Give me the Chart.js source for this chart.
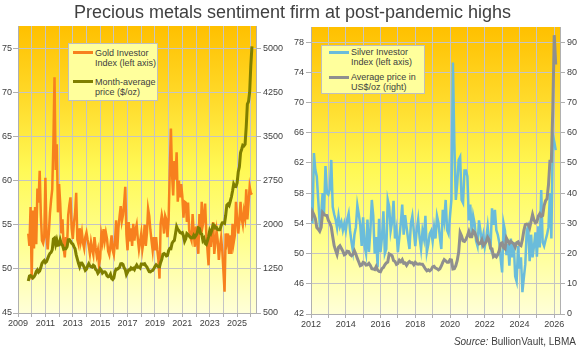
<!DOCTYPE html>
<html>
<head>
<meta charset="utf-8">
<script src="https://cdn.jsdelivr.net/npm/chart.js@4.4.1/dist/chart.umd.min.js"></script>
<style>
html,body{margin:0;padding:0;background:#ffffff;}
#wrap{position:relative;width:585px;height:350px;overflow:hidden;font-family:"Liberation Sans",Arial,sans-serif;color:#404040;}
canvas{position:absolute;left:0;top:0;}
#title{position:absolute;left:0;top:1px;width:585px;text-align:center;font-size:18px;line-height:22px;color:#404040;white-space:nowrap;}
.legend{position:absolute;background:#FFFF9C;border:1px solid #BFBFBF;box-sizing:border-box;}
.legend .row{position:absolute;font-size:9px;line-height:10px;white-space:nowrap;color:#404040;}
.legend .sw{position:absolute;height:3px;width:20px;}
#source{position:absolute;right:9px;top:336px;font-size:10px;line-height:12px;white-space:nowrap;color:#404040;}
</style>
</head>
<body>
<div id="wrap">
  <canvas id="goldChart" width="585" height="350"></canvas>
  <canvas id="silverChart" width="585" height="350"></canvas>
  <div id="title">Precious metals sentiment firm at post-pandemic highs</div>
  <div class="legend" style="left:68px;top:43px;width:90px;height:58px;">
    <div class="sw" style="left:4px;top:7px;background:#F7801E;"></div>
    <div class="row" style="left:26px;top:4px;">Gold Investor</div>
    <div class="row" style="left:26px;top:14px;">Index (left axis)</div>
    <div class="sw" style="left:4px;top:36px;background:#7F7F00;"></div>
    <div class="row" style="left:26px;top:33px;">Month-average</div>
    <div class="row" style="left:26px;top:43px;">price ($/oz)</div>
  </div>
  <div class="legend" style="left:321px;top:45px;width:104px;height:49px;">
    <div class="sw" style="left:7px;top:5px;background:#6ABCDB;"></div>
    <div class="row" style="left:29px;top:1px;">Silver Investor</div>
    <div class="row" style="left:29px;top:11px;">Index (left axis)</div>
    <div class="sw" style="left:7px;top:30px;background:#8F8F8F;"></div>
    <div class="row" style="left:29px;top:26px;">Average price in</div>
    <div class="row" style="left:29px;top:36px;">US$/oz (right)</div>
  </div>
  <div id="source"><i>Source:</i> BullionVault, LBMA</div>
</div>
<script>
// ---------- DATA ----------
// Gold: monthly, October 2009 to February 2026
const goldStartYear = 2009, goldStartMonth = 10;
const goldInvestorIndex = [
  54.0, 52.6, 57.0,
  48.8, 56.6, 52.3, 57.0, 52.8, 59.1, 57.5, 61.1, 56.2, 53.2, 52.9, 53.6,
  60.3, 53.8, 52.2, 54.0, 56.3, 57.8, 59.0, 64.2, 71.7, 61.2, 64.1, 56.4,
  59.6, 57.4, 54.0, 55.6, 52.4, 51.3, 53.6, 52.6, 56.1, 57.2, 58.1, 54.6,
  53.4, 55.2, 56.3, 58.6, 53.3, 52.8, 54.6, 53.2, 54.1, 52.9, 52.3, 53.6,
  54.1, 53.3, 52.6, 51.7, 53.0, 52.2, 51.6, 53.6, 52.4, 51.5, 52.1, 50.4,
  51.2, 53.9, 53.1, 54.5, 53.2, 54.1, 53.4, 52.0, 51.6, 52.6, 53.8, 52.1,
  51.6, 53.1, 55.5, 52.2, 54.6, 55.9, 57.1, 55.4, 56.1, 57.4, 59.3, 53.9,
  52.1, 55.3, 53.1, 54.6, 52.6, 55.1, 53.2, 54.4, 55.0, 53.4, 52.2, 53.1,
  54.0, 52.2, 53.1, 55.0, 52.6, 54.1, 56.8, 56.0, 54.4, 53.2, 52.1, 53.6,
  52.1, 53.6, 52.2, 51.1, 48.9, 55.1, 56.1, 55.4, 54.0, 56.0, 55.6, 53.6,
  55.6, 61.2, 65.9, 60.7, 58.3, 62.2, 60.1, 63.2, 57.6, 60.0, 58.1, 59.6,
  58.2, 55.8, 57.6, 57.5, 55.3, 57.5, 54.4, 53.6, 53.2, 56.2, 54.0, 52.5,
  54.8, 53.3, 51.7, 56.2, 54.0, 57.6, 55.0, 55.7, 57.4, 54.0, 52.2, 50.4,
  54.3, 52.5, 54.0, 55.3, 51.7, 53.0, 54.3, 53.2, 51.0, 52.5, 53.5, 52.1,
  49.8, 47.4, 54.0, 53.1, 54.0, 51.7, 53.8, 51.7, 55.1, 53.0, 53.8, 57.6,
  55.7, 54.0, 55.4, 57.6, 55.7, 55.0, 56.5, 55.8, 59.0, 55.6, 57.4, 59.3,
  58.6, 58.4
];
const goldPrice = [
  1043, 1127, 1135,
  1118, 1095, 1113, 1148, 1205, 1232, 1193, 1215, 1271, 1343, 1370, 1391,
  1356, 1372, 1424, 1474, 1512, 1529, 1572, 1756, 1772, 1665, 1739, 1652,
  1656, 1743, 1674, 1650, 1585, 1596, 1594, 1626, 1744, 1747, 1722, 1685,
  1671, 1627, 1593, 1487, 1414, 1343, 1286, 1347, 1349, 1316, 1275, 1225,
  1244, 1300, 1336, 1299, 1287, 1279, 1311, 1296, 1239, 1222, 1176, 1201,
  1251, 1227, 1179, 1198, 1199, 1181, 1131, 1117, 1125, 1159, 1086, 1068,
  1097, 1200, 1246, 1243, 1260, 1276, 1337, 1341, 1326, 1266, 1236, 1152,
  1192, 1234, 1231, 1266, 1246, 1260, 1236, 1283, 1315, 1280, 1282, 1265,
  1331, 1331, 1325, 1335, 1303, 1282, 1238, 1202, 1199, 1215, 1221, 1250,
  1291, 1320, 1301, 1286, 1284, 1359, 1413, 1500, 1511, 1495, 1471, 1479,
  1560, 1597, 1592, 1683, 1716, 1732, 1846, 1968, 1922, 1900, 1866, 1858,
  1867, 1808, 1718, 1760, 1850, 1834, 1807, 1785, 1775, 1777, 1822, 1790,
  1817, 1856, 1948, 1937, 1849, 1837, 1733, 1765, 1681, 1665, 1726, 1798,
  1898, 1855, 1912, 2000, 1992, 1943, 1951, 1918, 1916, 1916, 1985, 2030,
  2034, 2023, 2159, 2331, 2351, 2326, 2398, 2470, 2571, 2690, 2651, 2648,
  2710, 2895, 2983, 3220, 3282, 3350, 3340, 3368, 3665, 4050, 4090, 4250,
  4700, 5030
];
const goldIndexTicks = [45, 50, 55, 60, 65, 70, 75];
const goldPriceTicks = [500, 1250, 2000, 2750, 3500, 4250, 5000];
const goldYearGrid = [2009, 2010, 2011, 2012, 2013, 2014, 2015, 2016, 2017, 2018, 2019, 2020, 2021, 2022, 2023, 2024, 2025, 2026];
const goldYearLabels = [2009, 2011, 2013, 2015, 2017, 2019, 2021, 2023, 2025];

// Silver: monthly, January 2012 to February 2026
const silverStartYear = 2012, silverStartMonth = 1;
const silverInvestorIndex = [
  57.1, 54.0, 63.3, 61.1, 60.2, 57.1, 54.0, 55.0, 58.0, 55.3, 61.6, 58.0,
  57.8, 58.5, 62.4, 56.2, 55.2, 54.5, 53.4, 55.0, 53.6, 54.2, 53.1, 54.0,
  53.0, 54.5, 55.3, 53.0, 51.5, 50.3, 52.5, 53.5, 56.4, 55.2, 53.8, 51.0,
  54.8, 51.0, 50.0, 54.5, 50.2, 53.0, 57.1, 55.0, 50.0, 52.2, 48.2, 54.6,
  50.2, 52.1, 55.6, 50.0, 50.6, 57.1, 56.2, 53.0, 54.2, 57.0, 52.0, 53.2,
  50.2, 52.1, 54.0, 56.5, 52.5, 55.1, 53.5, 52.0, 50.6, 54.0, 55.0, 53.0,
  51.0, 53.1, 54.5, 52.1, 50.6, 53.0, 52.0, 55.0, 50.2, 51.2, 52.6, 53.0,
  51.6, 53.5, 52.0, 55.0, 54.1, 52.1, 50.6, 55.8, 54.4, 57.1, 53.1, 52.6,
  55.0, 57.2, 75.3, 64.6, 57.1, 59.3, 62.4, 62.8, 57.1, 56.7, 61.0, 61.0,
  60.2, 54.4, 56.5, 52.6, 55.0, 54.0, 51.7, 51.0, 54.4, 53.0, 51.5, 52.5,
  50.9, 52.0, 53.6, 51.5, 50.8, 56.0, 53.8, 55.8, 53.1, 52.5, 51.5, 49.3,
  47.5, 54.0, 53.0, 49.8, 51.3, 48.4, 52.0, 49.5, 51.5, 47.0, 46.3, 51.0,
  48.0, 49.5, 44.9, 46.8, 48.6, 53.1, 53.6, 49.0, 52.5, 49.5, 51.0, 52.8,
  49.6, 53.6, 50.8, 58.4, 51.5, 51.0, 51.8, 52.5, 53.5, 58.0, 52.0, 65.7,
  64.8, 63.7
];
const silverPrice = [
  30.8, 33.9, 32.9, 31.6, 28.6, 28.1, 27.4, 28.7, 33.6, 33.0, 32.7, 32.6,
  31.0, 30.1, 28.8, 25.6, 22.6, 21.1, 19.7, 22.1, 22.6, 21.7, 20.8, 19.6,
  19.9, 20.8, 20.7, 19.7, 19.3, 19.8, 20.9, 19.8, 18.4, 17.2, 16.0, 16.2,
  17.1, 16.9, 16.2, 16.3, 16.8, 16.1, 15.0, 14.9, 14.7, 15.7, 14.5, 14.1,
  14.0, 15.0, 15.4, 16.3, 16.9, 17.2, 19.9, 19.6, 19.3, 17.7, 17.4, 16.4,
  16.7, 17.8, 17.3, 18.0, 16.8, 16.9, 16.1, 16.9, 17.4, 17.0, 17.0, 16.3,
  17.1, 16.6, 16.5, 16.6, 16.5, 16.5, 15.7, 14.9, 14.3, 14.6, 14.3, 14.7,
  15.6, 15.8, 15.2, 15.0, 14.6, 15.0, 15.9, 17.1, 18.0, 17.6, 17.1, 17.1,
  18.0, 17.9, 14.9, 15.0, 16.0, 17.7, 20.5, 26.9, 25.8, 24.2, 24.0, 24.7,
  25.9, 27.3, 25.6, 25.6, 27.5, 27.0, 25.7, 24.0, 23.2, 23.4, 24.5, 22.6,
  23.3, 23.9, 25.4, 24.6, 21.8, 21.6, 19.0, 19.4, 18.9, 19.7, 21.0, 23.3,
  23.6, 22.0, 21.6, 25.1, 24.2, 23.4, 24.0, 23.6, 23.2, 22.2, 23.6, 23.9,
  22.9, 22.6, 24.6, 27.6, 29.6, 29.8, 29.7, 28.5, 30.7, 32.9, 31.1, 30.2,
  30.5, 32.4, 33.2, 32.3, 32.6, 35.9, 37.5, 38.2, 42.7, 50.6, 50.6, 68.0,
  92.3, 82.6
];
const silverIndexTicks = [42, 46, 50, 54, 58, 62, 66, 70, 74, 78];
const silverPriceTicks = [0, 10, 20, 30, 40, 50, 60, 70, 80, 90];
const silverYearGrid = [2012, 2013, 2014, 2015, 2016, 2017, 2018, 2019, 2020, 2021, 2022, 2023, 2024, 2025, 2026];
const silverYearLabels = [2012, 2014, 2016, 2018, 2020, 2022, 2024, 2026];

// ---------- CHARTS ----------
if (goldInvestorIndex.length !== goldPrice.length) throw new Error('gold length mismatch ' + goldInvestorIndex.length + ' ' + goldPrice.length);
if (silverInvestorIndex.length !== silverPrice.length) throw new Error('silver length mismatch ' + silverInvestorIndex.length + ' ' + silverPrice.length);

function toPoints(values, startYear, startMonth) {
  return values.map((v, i) => ({ x: startYear + (startMonth - 1 + i) / 12, y: v }));
}

const FONT = { family: '"Liberation Sans", Arial, sans-serif', size: 9 };
const TEXT = '#404040';
const GRID = '#C4C4C4';
const BORDER = '#B0B0B0';

const plotBackground = {
  id: 'plotBackground',
  beforeDraw(chart) {
    const { ctx, chartArea: a } = chart;
    const g = ctx.createLinearGradient(0, a.top, 0, a.bottom);
    g.addColorStop(0, '#FFC000');
    g.addColorStop(0.25, '#FFDA2A');
    g.addColorStop(0.5, '#FFF955');
    g.addColorStop(0.75, '#FFFF8E');
    g.addColorStop(1, '#FFFFD8');
    ctx.save();
    ctx.fillStyle = g;
    ctx.fillRect(a.left, a.top, a.right - a.left, a.bottom - a.top);
    ctx.restore();
  }
};

function fixTicks(list) {
  return (scale) => { scale.ticks = list.map(v => ({ value: v })); };
}

function build(canvasId, cfg) {
  return new Chart(document.getElementById(canvasId), {
    type: 'line',
    data: {
      datasets: [
        {
          label: cfg.priceLabel,
          data: toPoints(cfg.price, cfg.startYear, cfg.startMonth),
          yAxisID: 'y1',
          borderColor: cfg.priceColor,
          borderWidth: 3,
          pointRadius: 0,
          tension: 0,
          fill: false,
          order: 0
        },
        {
          label: cfg.indexLabel,
          data: toPoints(cfg.index, cfg.startYear, cfg.startMonth),
          yAxisID: 'y',
          borderColor: cfg.indexColor,
          borderWidth: 2.5,
          pointRadius: 0,
          tension: 0,
          fill: false,
          order: 1
        }
      ]
    },
    options: {
      responsive: false,
      animation: false,
      devicePixelRatio: 1,
      layout: { padding: cfg.padding },
      plugins: { legend: { display: false }, tooltip: { enabled: false } },
      scales: {
        x: {
          type: 'linear',
          min: cfg.xMin,
          max: cfg.xMax,
          afterBuildTicks: fixTicks(cfg.yearGrid),
          afterFit: (s) => { s.height = 22; },
          ticks: {
            autoSkip: false, maxRotation: 0, minRotation: 0, padding: 1,
            color: TEXT, font: FONT,
            callback: (v) => cfg.yearLabels.includes(v) ? String(v) : ''
          },
          grid: { color: GRID, lineWidth: 1, tickLength: 4, tickColor: BORDER },
          border: { display: true, color: BORDER }
        },
        y: {
          type: 'linear',
          position: 'left',
          min: cfg.yMin,
          max: cfg.yMax,
          afterBuildTicks: fixTicks(cfg.indexTicks),
          afterFit: (s) => { s.width = cfg.yWidth; },
          ticks: { color: TEXT, font: FONT, padding: cfg.yPad, callback: (v) => String(v) },
          grid: { color: GRID, lineWidth: 1, tickLength: 5, tickColor: BORDER },
          border: { display: true, color: BORDER }
        },
        y1: {
          type: 'linear',
          position: 'right',
          min: cfg.y1Min,
          max: cfg.y1Max,
          afterBuildTicks: fixTicks(cfg.priceTicks),
          afterFit: (s) => { s.width = cfg.y1Width; },
          ticks: { color: TEXT, font: FONT, padding: 2, callback: (v) => String(v) },
          grid: { drawOnChartArea: false, tickLength: 5, tickColor: BORDER },
          border: { display: true, color: BORDER }
        }
      }
    },
    plugins: [plotBackground]
  });
}

build('goldChart', {
  priceLabel: 'Month-average price ($/oz)',
  indexLabel: 'Gold Investor Index (left axis)',
  price: goldPrice, index: goldInvestorIndex,
  startYear: goldStartYear, startMonth: goldStartMonth,
  priceColor: '#7F7F00', indexColor: '#F7801E',
  xMin: 2009, xMax: 2026.38,
  yearGrid: goldYearGrid, yearLabels: goldYearLabels,
  yMin: 45, yMax: 77.5, indexTicks: goldIndexTicks,
  y1Min: 500, y1Max: 5375, priceTicks: goldPriceTicks,
  yWidth: 18, y1Width: 36, yPad: 1,
  padding: { left: 0, top: 26, right: 293, bottom: 15 }
});

build('silverChart', {
  priceLabel: 'Average price in US$/oz (right)',
  indexLabel: 'Silver Investor Index (left axis)',
  price: silverPrice, index: silverInvestorIndex,
  startYear: silverStartYear, startMonth: silverStartMonth,
  priceColor: '#8F8F8F', indexColor: '#6ABCDB',
  xMin: 2012, xMax: 2026.33,
  yearGrid: silverYearGrid, yearLabels: silverYearLabels,
  yMin: 42, yMax: 80, indexTicks: silverIndexTicks,
  y1Min: 0, y1Max: 95, priceTicks: silverPriceTicks,
  yWidth: 22, y1Width: 22, yPad: 2,
  padding: { left: 289, top: 27, right: 3, bottom: 14 }
});
</script>
</body>
</html>
